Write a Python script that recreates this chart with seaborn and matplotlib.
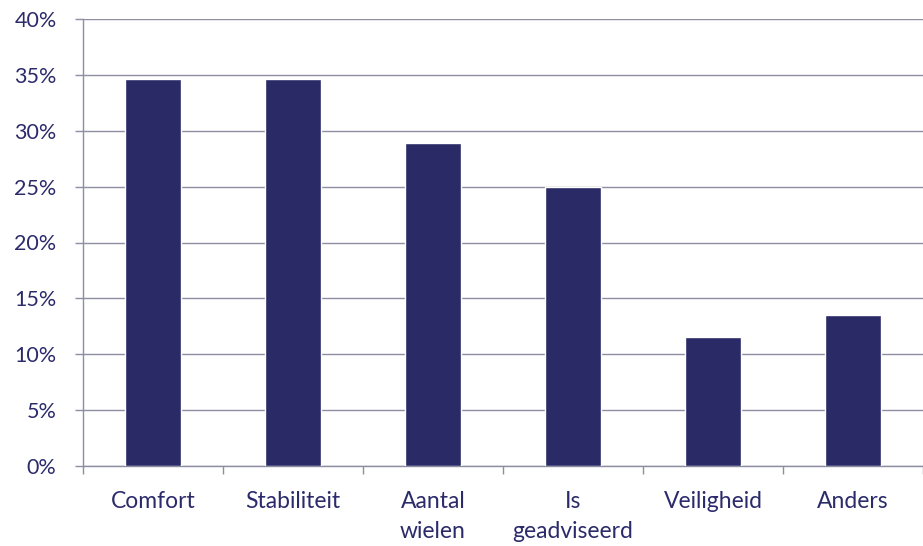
import matplotlib
matplotlib.use("Agg")
import matplotlib.pyplot as plt
import seaborn as sns
import pandas as pd
from matplotlib.ticker import FuncFormatter, MultipleLocator, FixedLocator

categories = ["Comfort", "Stabiliteit", "Aantal\nwielen", "Is\ngeadviseerd", "Veiligheid", "Anders"]
values = [34.6, 34.6, 28.9, 25.0, 11.5, 13.5]

bar_color = "#2a2a66"
text_color = "#2b2b6b"
line_color = "#8e8ea2"

sns.set_style("white")
plt.rcParams["font.family"] = ["Lato", "DejaVu Sans"]

df = pd.DataFrame({"cat": categories, "val": values})

fig = plt.figure(figsize=(9.23, 5.46), dpi=100)
ax = fig.add_axes([83 / 923, 1 - 466 / 546, 1 - 83 / 923, (466 - 19) / 546])

sns.barplot(data=df, x="cat", y="val", color=bar_color, width=0.4,
            saturation=1, ax=ax, zorder=3)

ax.set_xlim(-0.5, len(categories) - 0.5)
ax.set_ylim(0, 40)
ax.yaxis.set_major_locator(MultipleLocator(5))
ax.yaxis.set_major_formatter(FuncFormatter(lambda v, _: f"{v:.0f}%"))
ax.grid(axis="y", color=line_color, linewidth=1.0, zorder=0)
ax.set_axisbelow(True)

ax.set_xlabel("")
ax.set_ylabel("")

for side in ["top", "right"]:
    ax.spines[side].set_visible(False)
for side in ["left", "bottom"]:
    ax.spines[side].set_color(line_color)
    ax.spines[side].set_linewidth(1.0)

ax.tick_params(axis="y", which="major", left=True, length=6, width=1.0,
               color=line_color, pad=13, labelsize=15.5, labelcolor=text_color)
ax.tick_params(axis="x", which="major", bottom=False, length=0, pad=18,
               labelsize=16.5, labelcolor=text_color)
ax.xaxis.set_minor_locator(FixedLocator([i - 0.5 for i in range(len(categories) + 1)]))
ax.tick_params(axis="x", which="minor", bottom=True, length=6, width=1.0,
               color=line_color)

for lbl in ax.get_xticklabels():
    lbl.set_linespacing(1.5)

fig.savefig("out.png", dpi=100, facecolor="white")
